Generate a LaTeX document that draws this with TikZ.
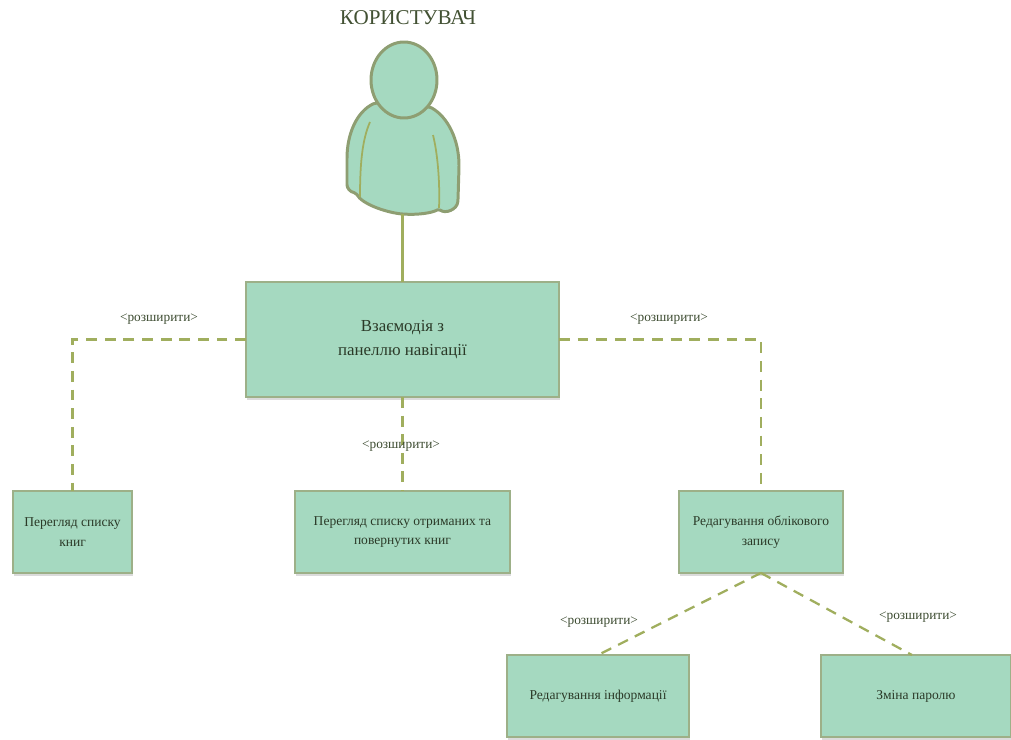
\documentclass[tikz,border=0pt]{standalone}
\usepackage{fontspec}
\setmainfont{Liberation Serif}
\usetikzlibrary{shadows}
\definecolor{mint}{HTML}{A5D9C0}
\definecolor{olive}{HTML}{A0AE5E}
\definecolor{edge}{HTML}{9DB088}
\definecolor{figedge}{HTML}{8E9E72}
\definecolor{ink}{HTML}{2B3A28}
\begin{document}
\begin{tikzpicture}[x=0.02cm,y=-0.02cm,outer sep=0cm,node distance=3.85cm,]
\tikzstyle{box} = [rectangle, draw=edge, thick, fill=mint, text=ink, align=center, font=\fontsize{7.7}{11}\selectfont, drop shadow={shadow xshift=0.02cm,shadow yshift=-0.07cm,fill=black,opacity=0.14}]
\tikzstyle{extlabel} = [text=ink!85!olive, inner sep=0cm, font=\fontsize{7.6}{10}\selectfont]
\tikzstyle{link} = [draw=olive, line width=1.3pt, dash pattern=on 6.2pt off 4.4pt]
\useasboundingbox (0,0) rectangle (1011,740);
%
\node[text=ink!80!olive,font=\fontsize{12}{14}\selectfont] (user) at (408,18) {КОРИСТУВАЧ};
\coordinate (feet) at (402.5,214);
\draw[figedge,fill=mint,line width=1.7pt,rounded corners=1pt] (375,103) .. controls (356,112) and (347,135) .. (347,160) -- (347,183) .. controls (347,188) and (350,192) .. (356,193) .. controls (362,204) and (385,212) .. (402,214) .. controls (418,215) and (432,213) .. (439,209) .. controls (445,214) and (457,210) .. (458,200) -- (459,167) .. controls (459,140) and (448,117) .. (430,107) -- cycle;
\draw[figedge,fill=mint,line width=1.7pt] (404,80) ellipse (33 and 38);
\draw[olive,line width=1pt] (370,122) .. controls (362,140) and (360,165) .. (360,197);
\draw[olive,line width=1pt] (433,135) .. controls (438,155) and (440,185) .. (439,208);
%
\node[box,minimum width=6.26cm,minimum height=2.3cm,font=\fontsize{9.6}{13.5}\selectfont] (11) at (402.5,339.5) {Взаємодія з\\панеллю навігації};
\node[box,below of=11,minimum width=4.3cm,minimum height=1.64cm] (22) {Перегляд списку отриманих та\\повернутих книг};
\node[box,left of=22,node distance=6.6cm,minimum width=2.38cm,minimum height=1.64cm] (21) {Перегляд списку\\книг};
\node[box,right of=22,node distance=7.17cm,minimum width=3.28cm,minimum height=1.64cm] (23) {Редагування облікового\\запису};
\node[box,minimum width=3.64cm,minimum height=1.64cm] (31) at (598,696) {Редагування інформації};
\node[box,right of=31,node distance=6.36cm,minimum width=3.8cm,minimum height=1.64cm] (32) {Зміна паролю};
%
\draw[olive,line width=1.2pt] (feet) -- (11.north);
\draw[link] (11.west) -| (21.north);
\draw[link] (11.south) -- (22.north);
\draw[link] (11.east) -| (23.north);
\draw[link] (23.south) -- (31.north);
\draw[link] (23.south) -- ([xshift=-0.08cm]32.north);
%
\node[extlabel] (l1) at (159,319) {<розширити>};
\node[extlabel] (l2) at (401,446) {<розширити>};
\node[extlabel] (l3) at (669,319) {<розширити>};
\node[extlabel] (l4) at (599,622) {<розширити>};
\node[extlabel] (l5) at (918,617) {<розширити>};
\end{tikzpicture}
\end{document}
